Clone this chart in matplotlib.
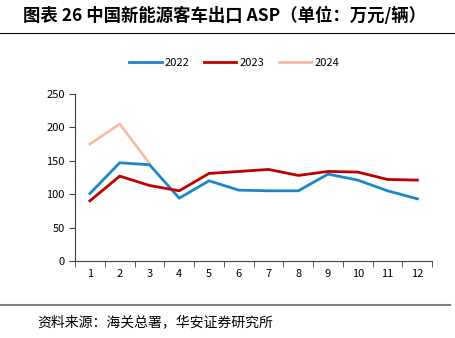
import numpy as np
import matplotlib
matplotlib.use('Agg')
from matplotlib import pyplot as plt
from matplotlib.lines import Line2D

plt.rcParams['font.family'] = ['Noto Sans CJK SC', 'DejaVu Sans']

months = [1, 2, 3, 4, 5, 6, 7, 8, 9, 10, 11, 12]
asp_2022 = [101, 147, 144, 94, 120, 106, 105, 105, 130, 121, 105, 93]
asp_2023 = [90, 127, 113, 105, 131, 134, 137, 128, 134, 133, 122, 121]
months_2024 = [1, 2, 3]
asp_2024 = [175, 205, 146]
yticks = [0, 50, 100, 150, 200, 250]

fig = plt.figure(figsize=(4.55, 3.38), dpi=100)
ax = fig.add_axes([0.165, 0.228, 0.785, 0.494])

ax.plot(months_2024, asp_2024, color='#F5BCA8', lw=2, label='2024', zorder=1)
ax.plot(months, asp_2022, color='#1A88C5', lw=2, label='2022', zorder=2)
ax.plot(months, asp_2023, color='#C00000', lw=2, label='2023', zorder=3)

ax.set_xlim(0.5, 12.5)
ax.set_ylim(0, 250)
ax.set_yticks(yticks)
ax.set_xticks(months)
ax.set_xticks(np.arange(0.5, 13, 1), minor=True)
ax.tick_params(axis='x', which='major', length=0, pad=6, labelsize=8)
ax.tick_params(axis='x', which='minor', length=4, direction='out', color='#404040')
ax.tick_params(axis='y', length=4, direction='out', labelsize=8, color='#404040')
for s in ['top', 'right']:
    ax.spines[s].set_visible(False)
for s in ['left', 'bottom']:
    ax.spines[s].set_color('#404040')

handles = [Line2D([], [], color='#1A88C5', lw=2),
           Line2D([], [], color='#C00000', lw=2),
           Line2D([], [], color='#F5BCA8', lw=2)]
fig.legend(handles, ['2022', '2023', '2024'], loc='center', bbox_to_anchor=(0.515, 0.815),
           ncol=3, frameon=False, fontsize=8, handlelength=2.9, columnspacing=1.3,
           handletextpad=0.3)

fig.text(0.05, 0.953, '图表 26 中国新能源客车出口 ASP（单位：万元/辆）', fontsize=12.5,
         fontweight='bold', va='center', ha='left')
fig.add_artist(Line2D([0.0, 1.0], [0.903, 0.903], color='black', lw=0.8, transform=fig.transFigure))
fig.add_artist(Line2D([0.0, 0.99], [0.098, 0.098], color='#808080', lw=1.5, transform=fig.transFigure))
fig.text(0.083, 0.047, '资料来源：海关总署，华安证券研究所', fontsize=10, va='center', ha='left')

fig.savefig('out.png', dpi=100)
